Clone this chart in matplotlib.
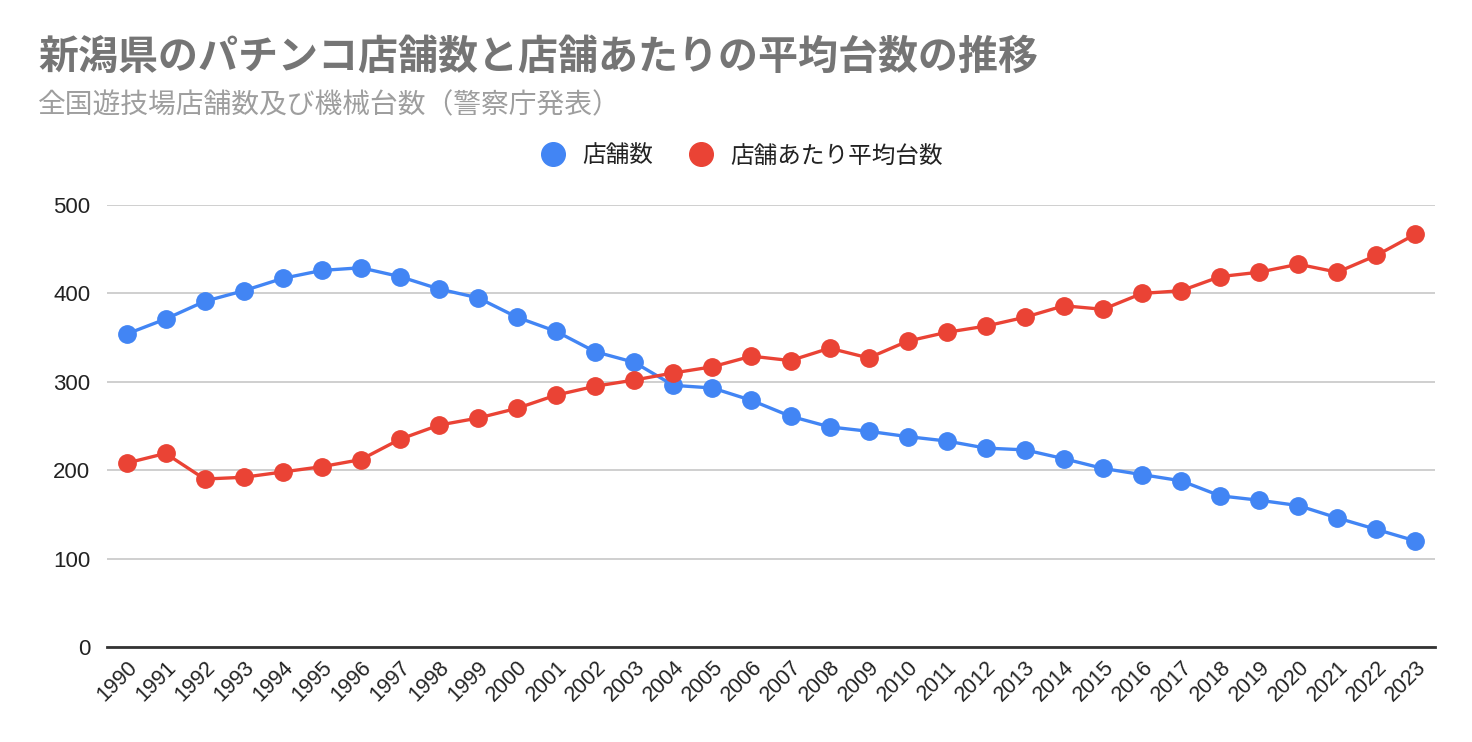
import matplotlib.pyplot as plt
from matplotlib.lines import Line2D

years = [str(y) for y in range(1990, 2024)]
stores = [354, 371, 391, 403, 417, 426, 429, 419, 405, 395,
          373, 357, 334, 322, 296, 293, 279, 261, 249, 244,
          238, 233, 225, 223, 213, 202, 195, 188, 171, 166,
          160, 146, 133, 120]
avg_machines = [208, 219, 190, 192, 198, 204, 212, 235, 251, 259,
                270, 285, 295, 302, 310, 317, 329, 324, 338, 327,
                346, 356, 363, 373, 386, 382, 400, 403, 419, 424,
                433, 424, 443, 467]
series_names = ["店舗数", "店舗あたり平均台数"]
yticks = [0, 100, 200, 300, 400, 500]

BLUE = "#4285F4"
RED = "#EA4335"
cjk = ["Noto Sans CJK JP", "DejaVu Sans"]
latin = ["Liberation Sans", "DejaVu Sans"]

fig = plt.figure(figsize=(14.72, 7.42), dpi=100)
ax = fig.add_axes([107 / 1472, 95 / 742, 1328 / 1472, 442 / 742])

x = list(range(len(years)))
ax.plot(x, stores, color=BLUE, lw=2.4, marker="o", ms=12.5, zorder=3)
ax.plot(x, avg_machines, color=RED, lw=2.4, marker="o", ms=12.5, zorder=4)

ax.set_xlim(-0.5, len(years) - 0.5)
ax.set_ylim(0, 500)
ax.set_yticks(yticks)
ax.set_yticklabels([str(v) for v in yticks], family=latin, fontsize=16, color="#222222")
ax.set_xticks(x)
ax.set_xticklabels(years, rotation=45, ha="right", rotation_mode="anchor",
                   family=latin, fontsize=15.5, color="#222222")
ax.tick_params(axis="both", length=0)
ax.tick_params(axis="y", pad=12)
ax.tick_params(axis="x", pad=7)

ax.grid(axis="y", color="#cccccc", lw=1.3, zorder=0)
for s in ["left", "right", "top"]:
    ax.spines[s].set_visible(False)
ax.spines["bottom"].set_color("#333333")
ax.spines["bottom"].set_linewidth(2)
ax.spines["bottom"].set_zorder(5)

fig.text(38 / 1472, 1 - 57 / 742, "新潟県のパチンコ店舗数と店舗あたりの平均台数の推移",
         family=cjk, fontsize=28.8, fontweight="bold", color="#757575", va="center")
fig.text(38 / 1472, 1 - 105 / 742, "全国遊技場店舗数及び機械台数（警察庁発表）",
         family=cjk, fontsize=20, color="#9e9e9e", va="center")

handles = [Line2D([], [], ls="", marker="o", ms=17, color=c) for c in (BLUE, RED)]
fig.legend(handles, series_names, loc="center", bbox_to_anchor=(0.5, 1 - 156 / 742),
           ncol=2, frameon=False, handletextpad=0.25, columnspacing=1.0,
           prop={"family": cjk, "size": 17}, labelcolor="#222222")

fig.savefig("out.png", dpi=100)
